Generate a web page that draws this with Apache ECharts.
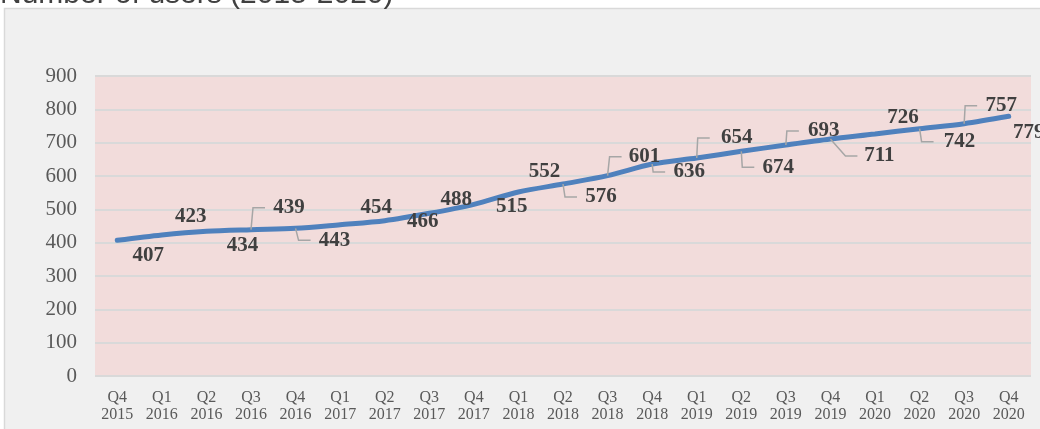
<!DOCTYPE html>
<html>
<head>
<meta charset="utf-8">
<script src="https://cdn.jsdelivr.net/npm/echarts@6/dist/echarts.min.js"></script>
<style>
  html, body { margin: 0; padding: 0; background: #fff; }
  #chart { width: 1040px; height: 429px; }
</style>
</head>
<body>
<div id="chart"></div>
<script>
// data
var quarters = ["Q4", "Q1", "Q2", "Q3", "Q4", "Q1", "Q2", "Q3", "Q4", "Q1", "Q2",
  "Q3", "Q4", "Q1", "Q2", "Q3", "Q4", "Q1", "Q2", "Q3", "Q4"];
var years = ["2015", "2016", "2016", "2016", "2016", "2017", "2017", "2017", "2017",
  "2018", "2018", "2018", "2018", "2019", "2019", "2019", "2019", "2020", "2020", "2020", "2020"];
var users = [407, 423, 434, 439, 443, 454, 466, 488, 515, 552, 576, 601, 636, 654,
  674, 693, 711, 726, 742, 757, 779];
var yTicks = [0, 100, 200, 300, 400, 500, 600, 700, 800, 900];

// label placement (offset from point, px)
var labelOffsets = [[31, 15], [29, -18], [36, 14], [38, -22], [39, 12], [36, -17], [38, 1],
  [27, -14], [38, 2], [26, -20], [38, 13], [37, -19], [37, 8], [40, -20], [37, 16],
  [38, -14], [49, 17], [28, -16], [40, 13], [37, -18], [20, 16]];
// leader line: 0 = none, otherwise x of the bend (px from point)
var leaderBend = [0, 0, 0, 2, 3, 0, 0, 0, 0, 0, 2, 2, 1, 1, 1, 1, 15, 0, 2, 1, 0];

var categories = quarters.map(function (q, i) { return q + "\n" + years[i]; });
var leaderData = [];
users.forEach(function (v, i) {
  if (leaderBend[i]) leaderData.push([i, v]);
});

var chart = echarts.init(document.getElementById("chart"));
var option = {
  backgroundColor: "#ffffff",
  animation: false,
  graphic: [
    {
      type: "rect",
      z: -10,
      shape: { x: 4.5, y: 8.5, width: 1100, height: 500 },
      style: { fill: "#f0f0f0", stroke: "#d9d9d9", lineWidth: 1.5 }
    },
    {
      type: "text",
      z: 10,
      style: {
        x: 0,
        y: 10,
        text: "Number of users (2015-2020)",
        font: "30px 'Liberation Sans', Arial, sans-serif",
        fill: "#404040",
        verticalAlign: "bottom"
      }
    }
  ],
  grid: {
    left: 95,
    right: 9,
    top: 76,
    bottom: 53,
    show: true,
    backgroundColor: "#f2dcdb",
    borderWidth: 0
  },
  xAxis: {
    type: "category",
    data: categories,
    boundaryGap: true,
    axisLine: { show: false },
    axisTick: { show: false },
    axisLabel: {
      interval: 0,
      margin: 13,
      color: "#595959",
      fontFamily: "'Liberation Serif', 'Times New Roman', serif",
      fontSize: 16,
      lineHeight: 17
    }
  },
  yAxis: {
    type: "value",
    min: yTicks[0],
    max: yTicks[yTicks.length - 1],
    interval: 100,
    axisLine: { show: false },
    axisTick: { show: false },
    splitLine: { lineStyle: { color: "#d9d9d9", width: 2 } },
    axisLabel: {
      margin: 18,
      color: "#595959",
      fontFamily: "'Liberation Serif', 'Times New Roman', serif",
      fontSize: 21
    }
  },
  series: [
    {
      type: "line",
      data: users,
      smooth: 0.3,
      symbol: "circle",
      symbolSize: 2,
      z: 3,
      itemStyle: { color: "#4f81bd" },
      lineStyle: { color: "#4f81bd", width: 5, cap: "round" },
      label: {
        show: true,
        position: "inside",
        color: "#404040",
        fontFamily: "'Liberation Serif', 'Times New Roman', serif",
        fontWeight: "bold",
        fontSize: 21
      },
      labelLayout: function (p) {
        var o = labelOffsets[p.dataIndex];
        return { dx: o[0], dy: o[1] };
      }
    },
    {
      // elbow leader lines from a point to its label
      type: "custom",
      silent: true,
      z: 4,
      data: leaderData,
      renderItem: function (params, api) {
        var i = api.value(0);
        var p = api.coord([i, api.value(1)]);
        var o = labelOffsets[i];
        var bx = leaderBend[i];
        return {
          type: "polyline",
          shape: {
            points: [
              [p[0], p[1]],
              [p[0] + bx, p[1] + o[1]],
              [p[0] + bx + 12, p[1] + o[1]]
            ]
          },
          style: { fill: null, stroke: "#a6a6a6", lineWidth: 1.5 }
        };
      }
    }
  ]
};
chart.setOption(option, true);
</script>
</body>
</html>
